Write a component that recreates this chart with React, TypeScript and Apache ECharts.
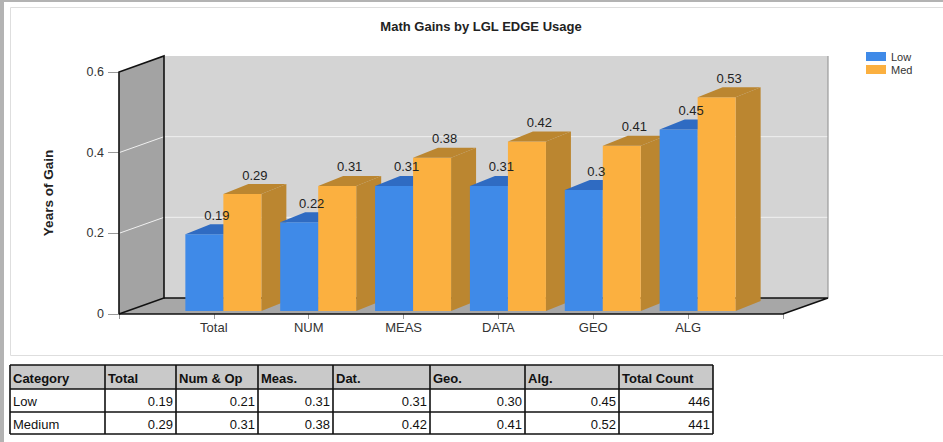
import React, { useEffect, useRef } from "react";
import * as echarts from "echarts";

// ---- data ----
const categories = ["Total", "NUM", "MEAS", "DATA", "GEO", "ALG"];
const lowValues = [0.19, 0.22, 0.31, 0.31, 0.3, 0.45];
const medValues = [0.29, 0.31, 0.38, 0.42, 0.41, 0.53];
const yTicks = [0, 0.2, 0.4, 0.6];
const seriesNames = ["Low", "Med"];
const tableHeader = ["Category", "Total", "Num & Op", "Meas.", "Dat.", "Geo.", "Alg.", "Total Count"];
const tableRowNames = ["Low", "Medium"];
const tableLow = [0.19, 0.21, 0.31, 0.31, 0.3, 0.45];
const tableMed = [0.29, 0.31, 0.38, 0.42, 0.41, 0.52];
const tableCounts = [446, 441];

// ---- layout / style ----
const FONT = '"Liberation Sans", Arial, Helvetica, sans-serif';
const WALL_DEPTH = [45, -16];
const BAR_FRONT = [9.5, -3];
const BAR_DEPTH = [25, -10];
const BAR_W = 38;
const COLORS = {
  low: { front: "#3f8ae8", top: "#2f6bc2", side: "#2f6bc2" },
  med: { front: "#fbb040", top: "#bb8630", side: "#bb8630" },
};
const COL_X = [10, 105, 176, 258, 333, 430, 525, 619, 713];
const ROW_Y = [365, 389, 412, 434];

function txt(text: string, x: number, y: number, font: string, align: string, fill = "#111") {
  return {
    type: "text",
    z: 10,
    style: {
      text,
      x,
      y,
      font,
      fill,
      align,
      textAlign: align,
      verticalAlign: "middle",
      textVerticalAlign: "middle",
    },
  };
}

function buildTable() {
  const els: any[] = [];
  const rows: string[][] = [
    tableHeader,
    [tableRowNames[0], ...tableLow.map((v) => v.toFixed(2)), String(tableCounts[0])],
    [tableRowNames[1], ...tableMed.map((v) => v.toFixed(2)), String(tableCounts[1])],
  ];
  const x0 = COL_X[0];
  const x1 = COL_X[COL_X.length - 1];
  els.push({
    type: "rect",
    z: 9,
    shape: { x: x0, y: ROW_Y[0], width: x1 - x0, height: ROW_Y[1] - ROW_Y[0] },
    style: { fill: "#c9c9c9" },
  });
  rows.forEach((row, r) => {
    const yc = (ROW_Y[r] + ROW_Y[r + 1]) / 2;
    row.forEach((cell, c) => {
      const header = r === 0;
      const left = header || c === 0;
      const x = left ? COL_X[c] + 3 : COL_X[c + 1] - 3;
      els.push(txt(cell, x, yc + 1, (header ? "bold " : "") + "13px " + FONT, left ? "left" : "right"));
    });
  });
  ROW_Y.forEach((y) => {
    els.push({ type: "line", z: 11, shape: { x1: x0, y1: y, x2: x1, y2: y }, style: { stroke: "#111", lineWidth: 1.6 } });
  });
  COL_X.forEach((x) => {
    els.push({
      type: "line",
      z: 11,
      shape: { x1: x, y1: ROW_Y[0], x2: x, y2: ROW_Y[ROW_Y.length - 1] },
      style: { stroke: "#111", lineWidth: 1.6 },
    });
  });
  return els;
}

function makeBarRender(side: number, colors: { front: string; top: string; side: string }) {
  return (_params: any, api: any) => {
    const x = api.value(0);
    const v = api.value(1);
    const base = api.coord([x, 0]);
    const tip = api.coord([x, v]);
    const left = base[0] + (side === 0 ? -BAR_W : 0) + BAR_FRONT[0];
    const right = left + BAR_W;
    const bottom = base[1] + BAR_FRONT[1];
    const top = tip[1] + BAR_FRONT[1];
    const [dx, dy] = BAR_DEPTH;
    const zb = x * 10 + side * 3;
    return {
      type: "group",
      children: [
        {
          type: "polygon",
          z2: zb,
          shape: { points: [[right, top], [right + dx, top + dy], [right + dx, bottom + dy], [right, bottom]] },
          style: { fill: colors.side },
        },
        {
          type: "rect",
          z2: zb + 1,
          shape: { x: left, y: top, width: BAR_W, height: bottom - top },
          style: { fill: colors.front },
        },
        {
          type: "polygon",
          z2: zb + 1,
          shape: { points: [[left, top], [right, top], [right + dx, top + dy], [left + dx, top + dy]] },
          style: { fill: colors.top },
        },
        {
          type: "text",
          z2: 1000,
          style: {
            text: String(v),
            x: left + BAR_W / 2 + dx / 2,
            y: top + dy - 9,
            font: "13px " + FONT,
            fill: "#222",
            align: "center",
            textAlign: "center",
            verticalAlign: "middle",
            textVerticalAlign: "middle",
          },
        },
      ],
    };
  };
}

const frameRender = (_params: any, api: any) => {
  const yMax = yTicks[yTicks.length - 1];
  const xMax = categories.length + 1;
  const a = api.coord([0, 0]);
  const b = api.coord([xMax, 0]);
  const c = api.coord([0, yMax]);
  const d = api.coord([xMax, yMax]);
  const sh = (p: number[]) => [p[0] + WALL_DEPTH[0], p[1] + WALL_DEPTH[1]];
  const children: any[] = [
    { type: "polygon", shape: { points: [sh(a), sh(c), sh(d), sh(b)] }, style: { fill: "#d4d4d4" } },
    { type: "polygon", shape: { points: [a, c, sh(c), sh(a)] }, style: { fill: "#a3a3a3" } },
    { type: "polygon", shape: { points: [a, b, sh(b), sh(a)] }, style: { fill: "#a7a7a7" } },
  ];
  yTicks.forEach((v) => {
    if (v <= 0 || v >= yMax) return;
    const p = api.coord([0, v]);
    const q = api.coord([xMax, v]);
    children.push({
      type: "polyline",
      shape: { points: [p, sh(p), sh(q)] },
      style: { stroke: "#f0f0f0", lineWidth: 1, fill: null },
    });
  });
  children.push({
    type: "line",
    shape: { x1: sh(b)[0], y1: sh(b)[1], x2: sh(d)[0], y2: sh(d)[1] },
    style: { stroke: "#9a9a9a", lineWidth: 1.2 },
  });
  children.push({
    type: "polyline",
    shape: { points: [a, c, sh(c), sh(a), a] },
    style: { stroke: "#111", lineWidth: 1.6, fill: null },
  });
  children.push({
    type: "polyline",
    shape: { points: [a, b, sh(b), sh(a)] },
    style: { stroke: "#111", lineWidth: 1.6, fill: null },
  });
  return { type: "group", children };
};

export default function App() {
  const ref = useRef<HTMLDivElement>(null);
  useEffect(() => {
    if (!ref.current) return;
    const chart = echarts.init(ref.current, null, { renderer: "svg" });
    const xMax = categories.length + 1;
    chart.setOption({
      animation: false,
      backgroundColor: "#ffffff",
      textStyle: { fontFamily: FONT },
      title: {
        text: "Math Gains by LGL EDGE Usage",
        left: 476,
        top: 15,
        textAlign: "center",
        textStyle: { fontSize: 13, fontWeight: "bold", color: "#222", fontFamily: FONT },
      },
      legend: {
        data: seriesNames,
        orient: "vertical",
        left: 861,
        top: 46,
        itemWidth: 20,
        itemHeight: 9,
        itemGap: 2,
        icon: "rect",
        textStyle: { fontSize: 11, color: "#333", fontFamily: FONT },
      },
      grid: { left: 119, right: 943 - 783, top: 72, bottom: 442 - 314 },
      xAxis: {
        type: "value",
        min: 0,
        max: xMax,
        interval: 1,
        axisLine: { show: false },
        splitLine: { show: false },
        axisTick: { show: true, length: 5, lineStyle: { color: "#999" } },
        axisLabel: {
          margin: 7,
          fontSize: 13,
          color: "#333",
          fontFamily: FONT,
          formatter: (v: number) => categories[v - 1] ?? "",
        },
      },
      yAxis: {
        type: "value",
        min: yTicks[0],
        max: yTicks[yTicks.length - 1],
        interval: yTicks[1] - yTicks[0],
        name: "Years of Gain",
        nameLocation: "middle",
        nameGap: 64,
        nameTextStyle: { fontSize: 13.5, fontWeight: "bold", color: "#222", fontFamily: FONT },
        axisLine: { show: false },
        splitLine: { show: false },
        axisTick: { show: true, length: 11, lineStyle: { color: "#999" } },
        axisLabel: { margin: 15, fontSize: 12.5, color: "#333", fontFamily: FONT },
      },
      graphic: [
        { type: "rect", z: 0, shape: { x: 0, y: 0, width: 4, height: 442 }, style: { fill: "#b3b3b3" } },
        { type: "rect", z: 0, shape: { x: 0, y: 0, width: 943, height: 2 }, style: { fill: "#b3b3b3" } },
        {
          type: "rect",
          z: 0,
          shape: { x: 10.5, y: 7.5, width: 940, height: 348 },
          style: { fill: "none", stroke: "#dedede", lineWidth: 1 },
        },
        ...buildTable(),
      ],
      series: [
        {
          type: "custom",
          name: "frame",
          z: 1,
          silent: true,
          renderItem: frameRender,
          data: [[0, 0]],
          encode: { x: 0, y: 1 },
          clip: false,
        },
        {
          type: "custom",
          name: seriesNames[0],
          z: 2,
          itemStyle: { color: COLORS.low.front },
          renderItem: makeBarRender(0, COLORS.low),
          data: lowValues.map((v, i) => [i + 1, v]),
          encode: { x: 0, y: 1 },
          clip: false,
        },
        {
          type: "custom",
          name: seriesNames[1],
          z: 2,
          itemStyle: { color: COLORS.med.front },
          renderItem: makeBarRender(1, COLORS.med),
          data: medValues.map((v, i) => [i + 1, v]),
          encode: { x: 0, y: 1 },
          clip: false,
        },
      ],
    });
    return () => chart.dispose();
  }, []);
  return (
    <div
      ref={ref}
      style={{ position: "fixed", left: 0, top: 0, width: 943, height: 442, background: "#fff" }}
    />
  );
}
